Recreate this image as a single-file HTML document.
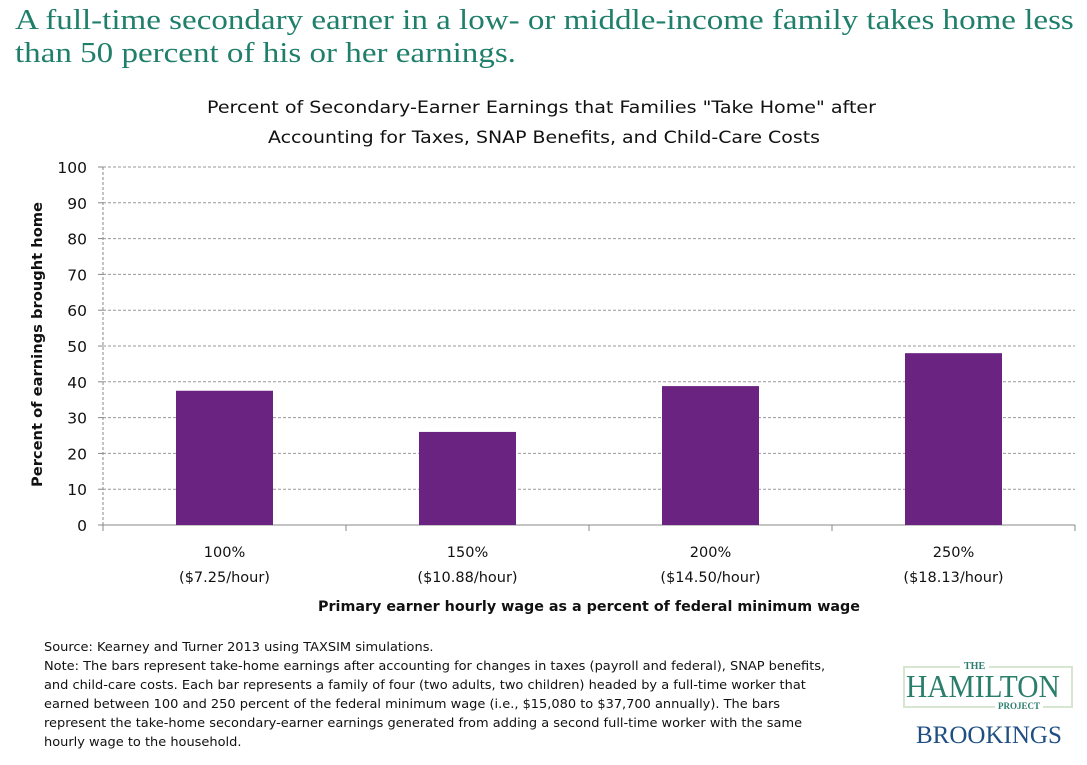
<!DOCTYPE html>
<html><head><meta charset="utf-8"><style>
body{margin:0;width:1087px;height:765px;background:#fff;overflow:hidden;font-family:"DejaVu Sans","Liberation Sans",sans-serif;position:relative}
.h{position:absolute;left:15px;top:4px;font-family:"Liberation Serif",serif;font-size:28px;line-height:33px;color:#1f7f6a;transform:scaleX(1.18);transform-origin:left top;white-space:nowrap}
.note{position:absolute;left:44px;top:637px;font-size:12.4px;line-height:19px;color:#111;white-space:nowrap;transform:scaleX(1.045);transform-origin:left top}
</style></head><body>
<div class="h">A full-time secondary earner in a low- or middle-income family takes home less<br>than 50 percent of his or her earnings.</div>
<svg id="c" width="1087" height="630" style="position:absolute;left:0;top:0"></svg>
<div class="note">Source: Kearney and Turner 2013 using TAXSIM simulations.<br>Note: The bars represent take-home earnings after accounting for changes in taxes (payroll and federal), SNAP benefits,<br>and child-care costs. Each bar represents a family of four (two adults, two children) headed by a full-time worker that<br>earned between 100 and 250 percent of the federal minimum wage (i.e., $15,080 to $37,700 annually). The bars<br>represent the take-home secondary-earner earnings generated from adding a second full-time worker with the same<br>hourly wage to the household.</div>
<div style="position:absolute;left:903px;top:666px;width:170px;height:42px;border:2px solid #d6e6d0;box-sizing:border-box"></div>
<div style="position:absolute;left:960px;top:661px;padding:0 4px;background:#fff;font-family:'Liberation Serif',serif;font-size:10px;color:#2b7d6c;font-weight:bold">THE</div>
<div style="position:absolute;left:906px;top:671px;font-family:'Liberation Serif',serif;font-size:32px;color:#2b7d6c;line-height:30px;transform:scaleX(0.92);transform-origin:left top">HAMILTON</div>
<div style="position:absolute;left:995px;top:701px;padding:0 3px;background:#fff;font-family:'Liberation Serif',serif;font-size:9px;color:#2b7d6c;font-weight:bold">PROJECT</div>
<div style="position:absolute;left:916px;top:722px;font-family:'Liberation Serif',serif;font-size:25px;color:#1f4e82">BROOKINGS</div>
<script>
const categories=["100%","150%","200%","250%"];
const subLabels=["($7.25/hour)","($10.88/hour)","($14.50/hour)","($18.13/hour)"];
const values=[37.5,26,38.8,48];
const yTicks=[0,10,20,30,40,50,60,70,80,90,100];
const svg=document.getElementById('c');const NS='http://www.w3.org/2000/svg';
const L=103,R=1075,T=167,B=525;
const y=v=>B-(v/100)*(B-T);
const cw=(R-L)/categories.length;
const x=i=>L+cw*i+cw/2;
function mk(t,a,txt){const e=document.createElementNS(NS,t);for(const k in a)e.setAttribute(k,a[k]);if(txt!=null)e.textContent=txt;svg.appendChild(e);return e;}
let e;
e=mk('text',{x:207,y:113,'font-size':16.5,fill:'#111',textLength:669,lengthAdjust:'spacingAndGlyphs'},'Percent of Secondary-Earner  Earnings that Families "Take Home"  after');


e=mk('text',{x:268,y:143,'font-size':16.5,fill:'#111',textLength:552,lengthAdjust:'spacingAndGlyphs'},'Accounting for Taxes, SNAP Benefits, and Child-Care Costs');


yTicks.forEach(t=>{
 if(t>0){e=mk('line',{x1:L,x2:R,y1:y(t),y2:y(t),stroke:'#999','stroke-dasharray':'3,2','stroke-width':1});
 
 }
 e=mk('line',{x1:L-5,x2:L,y1:y(t),y2:y(t),stroke:'#888'});
 
 
 e=mk('text',{x:87,y:y(t)+6,'text-anchor':'end','font-size':15.5,fill:'#111'},t);
 
 
});
e=mk('line',{x1:L,x2:L,y1:T,y2:B,stroke:'#888','stroke-dasharray':'3,2'});


e=mk('line',{x1:L,x2:R,y1:B,y2:B,stroke:'#888'});


for(let i=0;i<=categories.length;i++){e=mk('line',{x1:L+cw*i,x2:L+cw*i,y1:B,y2:B+6,stroke:'#888'});

}
const bw=97;
values.forEach((v,i)=>{
 e=mk('rect',{x:x(i)-bw/2,y:y(v),width:bw,height:B-y(v),fill:'#6b2382'});
 
 
 e=mk('text',{x:x(i),y:557,'text-anchor':'middle','font-size':14.5,fill:'#111'},categories[i]);
 
 
 e=mk('text',{x:x(i),y:582,'text-anchor':'middle','font-size':14.5,fill:'#111'},subLabels[i]);
 
 
});
e=mk('text',{x:318,y:611,'font-size':14.5,'font-weight':'bold',fill:'#111',textLength:542,lengthAdjust:'spacingAndGlyphs'},'Primary earner hourly wage as a percent of federal minimum wage');


e=mk('text',{x:-142,y:0,'font-size':14.5,'font-weight':'bold',fill:'#111',transform:'translate(42,345) rotate(-90)',textLength:285,lengthAdjust:'spacingAndGlyphs'},'Percent of earnings brought home');


</script>
</body></html>
